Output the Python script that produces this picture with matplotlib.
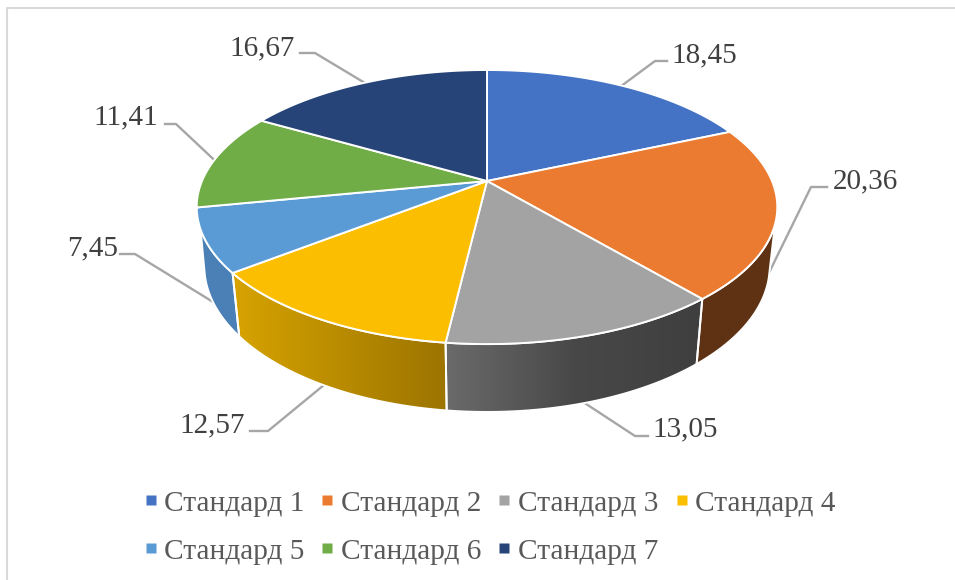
import numpy as np
from matplotlib import pyplot as plt
from matplotlib.patches import Polygon
from matplotlib.colors import LinearSegmentedColormap

names = ["Стандард 1", "Стандард 2", "Стандард 3", "Стандард 4",
         "Стандард 5", "Стандард 6", "Стандард 7"]
values = [18.45, 20.36, 13.05, 12.57, 7.45, 11.41, 16.67]
labels = ["18,45", "20,36", "13,05", "12,57", "7,45", "11,41", "16,67"]
colors = ["#4472C4", "#EA7B30", "#A3A3A3", "#FBBE00", "#5B9BD5", "#70AD47", "#264478"]

plt.rcParams['font.family'] = ['Liberation Serif', 'DejaVu Serif']

# perspective of the pie, in pixels of the picture
CX, CY = 487, 181
A, B = 285, 97.7
K = 0.19       # far side looks smaller
DEPTH = 64     # height of the wall
SHRINK = 1.027 # bottom rim is a bit further away


def project(theta, z=0.0, r=1.0):
    # theta in degrees, clockwise from the top. z=0 top face, z=1 bottom rim
    t = np.radians(theta)
    u, v = r * np.sin(t), r * np.cos(t)
    w = (1 + K * v) * (1 + (SHRINK - 1) * z)
    return CX + A * u / w, (CY - B * v + DEPTH * z) / w


fig = plt.figure(figsize=(9.55, 5.8), dpi=100)
ax = fig.add_axes([0, 0, 1, 1])

# chart frame, only top and left show in the screenshot
ax.plot([7, 7, 955], [580, 8, 8], color='#d9d9d9', lw=1.5, zorder=1)

total = sum(values)
edges = np.concatenate([[0], np.cumsum(values)]) / total * 360

# leader lines and value labels: elbow, end of line, text x, baseline, which rim
leaders = [
    (655, 61, 667, 61, 671, 62, 0),
    (811, 187, 827, 187, 833, 188, 1),
    (635, 436, 648, 436, 652, 436, 1),
    (268, 431, 250, 431, 245, 432, 1),
    (135, 254, 120, 254, 118, 255, 1),
    (176, 124, 165, 124, 158, 124, 0),
    (315, 53, 300, 53, 295, 55, 0),
]
for i, (ex, ey, hx, hy, tx, ty, rim) in enumerate(leaders):
    px, py = project((edges[i] + edges[i + 1]) / 2, rim)
    ax.plot([px, ex, hx], [py, ey, hy], color='#a6a6a6', lw=1.7, zorder=2)
    ha = 'left' if tx > CX else 'right'
    ax.text(tx, ty, labels[i], fontsize=21, color='#404040', ha=ha,
            va='baseline', zorder=6)

# side wall, shading left to right for each visible slice
# angles: start/end on the top rim, start/end on the bottom rim
wall_shades = {
    1: (["#5f3214", "#5f3214"], 108, edges[2], 104, edges[2]),
    2: (["#6a6a6a", "#484848", "#3f3f3f"], edges[2], edges[3], edges[2], edges[3]),
    3: (["#d6a300", "#9c7400"], edges[3], edges[4], edges[3], edges[4]),
    4: (["#4a80b6", "#4a80b6"], edges[4], 250, edges[4], 256),
}
for i, (shade, t0, t1, b0, b1) in wall_shades.items():
    tx, ty = project(np.linspace(t0, t1, 80), 0)
    bx, by = project(np.linspace(b0, b1, 80), 1)
    pts = np.column_stack([np.r_[tx, bx[::-1]], np.r_[ty, by[::-1]]])
    poly = Polygon(pts, closed=True, facecolor='none', edgecolor='white', lw=1.4, zorder=3.2)
    ax.add_patch(poly)
    cmap = LinearSegmentedColormap.from_list('wall%d' % i, shade)
    im = ax.imshow(np.linspace(0, 1, 128).reshape(1, -1), cmap=cmap, aspect='auto',
                   extent=[pts[:, 0].min(), pts[:, 0].max(), pts[:, 1].max(), pts[:, 1].min()],
                   zorder=3)
    im.set_clip_path(poly)

# top face
for i in range(len(values)):
    th = np.linspace(edges[i], edges[i + 1], 120)
    rx, ry = project(th)
    pts = np.column_stack([np.r_[CX, rx], np.r_[CY, ry]])
    ax.add_patch(Polygon(pts, closed=True, facecolor=colors[i], edgecolor='white',
                         lw=1.4, joinstyle='round', zorder=4))

# legend, 4 items then 3
leg_x = [150.5, 327.3, 504.3, 681.7]
leg_y = [500, 548.3]
for i, name in enumerate(names):
    x, y = leg_x[i % 4], leg_y[i // 4]
    ax.plot(x, y, marker='s', ms=6.8, color=colors[i], mec='none', zorder=5)
    ax.text(x + 13.5, y + 11, name, fontsize=21.2, color='#595959', ha='left', va='baseline')

ax.set_xlim(0, 955)
ax.set_ylim(580, 0)
ax.axis('off')
fig.savefig('out.png', dpi=100)
